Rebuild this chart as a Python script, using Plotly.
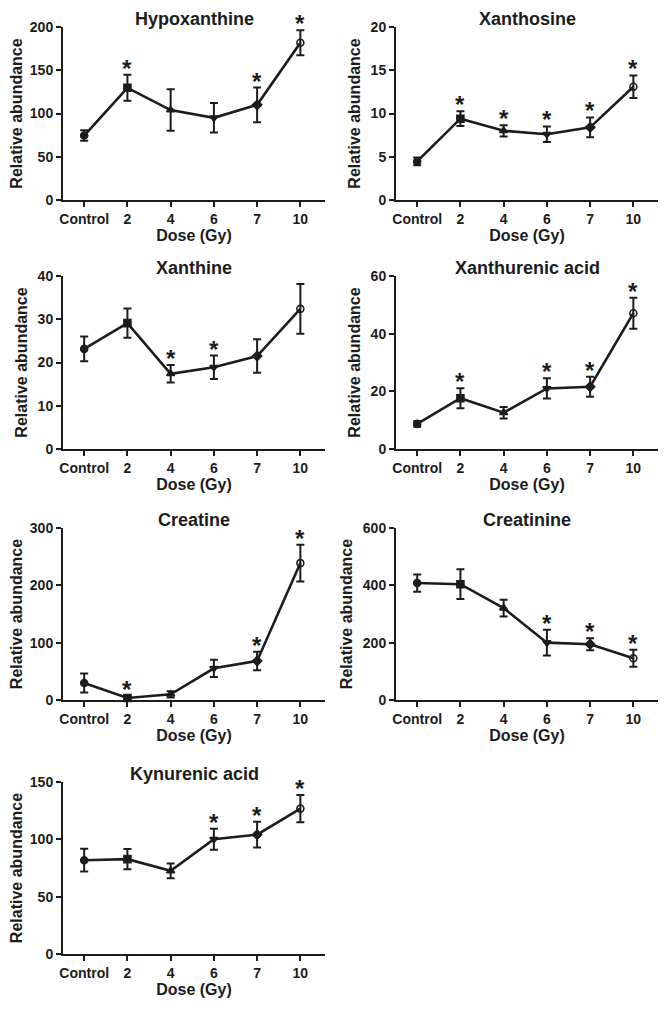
import plotly.graph_objects as go

categories = ["Control", "2", "4", "6", "7", "10"]
symbols = ["circle", "square", "triangle-up", "triangle-down", "diamond", "circle-open"]

titles = ["Hypoxanthine", "Xanthosine", "Xanthine", "Xanthurenic acid",
          "Creatine", "Creatinine", "Kynurenic acid"]

hypoxanthine_mean = [74.5, 129.7, 104, 95, 110, 181.8]
hypoxanthine_err = [6, 15, 24, 17, 20, 14.5]
hypoxanthine_sig = [False, True, False, False, True, True]

xanthosine_mean = [4.46, 9.4, 8.0, 7.6, 8.4, 13.1]
xanthosine_err = [0.45, 0.85, 0.65, 0.9, 1.15, 1.3]
xanthosine_sig = [False, True, True, True, True, True]

xanthine_mean = [23.15, 29.1, 17.4, 18.9, 21.5, 32.4]
xanthine_err = [2.85, 3.4, 2.05, 2.7, 3.85, 5.75]
xanthine_sig = [False, False, True, True, False, False]

xanthurenic_mean = [8.7, 17.6, 12.6, 21.0, 21.6, 47.1]
xanthurenic_err = [0.95, 3.5, 2.0, 3.5, 3.45, 5.4]
xanthurenic_sig = [False, True, False, True, True, True]

creatine_mean = [29.7, 3.5, 9.9, 55.3, 68.1, 238.8]
creatine_err = [16.6, 3, 5.5, 15, 16, 32]
creatine_sig = [False, True, False, False, True, True]

creatinine_mean = [408, 404, 320.5, 200, 194.6, 145.7]
creatinine_err = [30, 52, 29, 45, 21, 30]
creatinine_sig = [False, False, False, True, True, True]

kynurenic_mean = [81.8, 82.7, 72.5, 100.1, 104.1, 126.8]
kynurenic_err = [9.9, 8.8, 6.5, 9.2, 11.2, 11.9]
kynurenic_sig = [False, False, False, True, True, True]

y_max = [200, 20, 40, 60, 300, 600, 150]
y_dtick = [50, 5, 10, 20, 100, 200, 50]

means = [hypoxanthine_mean, xanthosine_mean, xanthine_mean, xanthurenic_mean,
         creatine_mean, creatinine_mean, kynurenic_mean]
errs = [hypoxanthine_err, xanthosine_err, xanthine_err, xanthurenic_err,
        creatine_err, creatinine_err, kynurenic_err]
sigs = [hypoxanthine_sig, xanthosine_sig, xanthine_sig, xanthurenic_sig,
        creatine_sig, creatinine_sig, kynurenic_sig]

# page body has an 8px margin; figure is sized to fit inside the window
OFF = 8
W, H = 666 - 2 * OFF, 1014 - 2 * OFF
col_px = [(63, 325), (396, 658)]
row_px = [(27, 200), (276, 449), (528, 700), (782, 954)]

FONT = "Liberation Sans, Arial, sans-serif"
INK = "#1c1c1c"

fig = go.Figure()
layout = dict(width=W, height=H, margin=dict(l=0, r=0, t=0, b=0, autoexpand=False),
              paper_bgcolor="white", plot_bgcolor="white", showlegend=False,
              font=dict(family=FONT, color=INK))
annotations = []

for i in range(7):
    r, c = divmod(i, 2)
    n = i + 1
    xa = "x" if n == 1 else f"x{n}"
    ya = "y" if n == 1 else f"y{n}"
    x0, x1 = col_px[c]
    yt, yb = row_px[r]
    xdom = [(x0 - OFF) / W, (x1 - OFF) / W]
    ydom = [1 - (yb - OFF) / H, 1 - (yt - OFF) / H]

    fig.add_trace(go.Scatter(
        x=categories, y=means[i], xaxis=xa, yaxis=ya, mode="lines+markers",
        line=dict(color=INK, width=2.6),
        marker=dict(symbol=symbols, size=7, color=INK,
                    line=dict(color=INK, width=1.6)),
        error_y=dict(type="data", array=errs[i], color=INK, thickness=2, width=4),
        cliponaxis=False,
    ))
    for k in range(6):
        if sigs[i][k]:
            annotations.append(dict(
                text="<b>*</b>", x=k, y=means[i][k] + errs[i][k],
                xref=xa, yref=ya, xanchor="center", yanchor="bottom", yshift=-9,
                showarrow=False, font=dict(family=FONT, size=24, color=INK)))

    axis_common = dict(showline=True, linewidth=2, linecolor=INK, ticks="outside",
                       ticklen=5, tickwidth=2, tickcolor=INK, showgrid=False,
                       zeroline=False, automargin=False,
                       tickfont=dict(family=FONT, size=14, color=INK, weight="bold"))
    layout["xaxis" if n == 1 else f"xaxis{n}"] = dict(
        axis_common, domain=xdom, anchor=ya, type="category",
        categoryorder="array", categoryarray=categories, range=[-0.49, 5.57],
        title=dict(text="Dose (Gy)", standoff=3,
                   font=dict(family=FONT, size=16, color=INK, weight="bold")))
    layout["yaxis" if n == 1 else f"yaxis{n}"] = dict(
        axis_common, domain=ydom, anchor=xa, range=[0, y_max[i]], dtick=y_dtick[i],
        tick0=0,
        title=dict(text="Relative abundance", standoff=6,
                   font=dict(family=FONT, size=16, color=INK, weight="bold")))
    annotations.append(dict(
        text=f"<b>{titles[i]}</b>", x=(xdom[0] + xdom[1]) / 2,
        y=1 - (yt - 8 - OFF) / H,
        xref="paper", yref="paper", xanchor="center", yanchor="middle",
        showarrow=False, font=dict(family=FONT, size=18, color=INK)))

layout["annotations"] = annotations
fig.update_layout(**layout)
fig.write_html("out.html")
